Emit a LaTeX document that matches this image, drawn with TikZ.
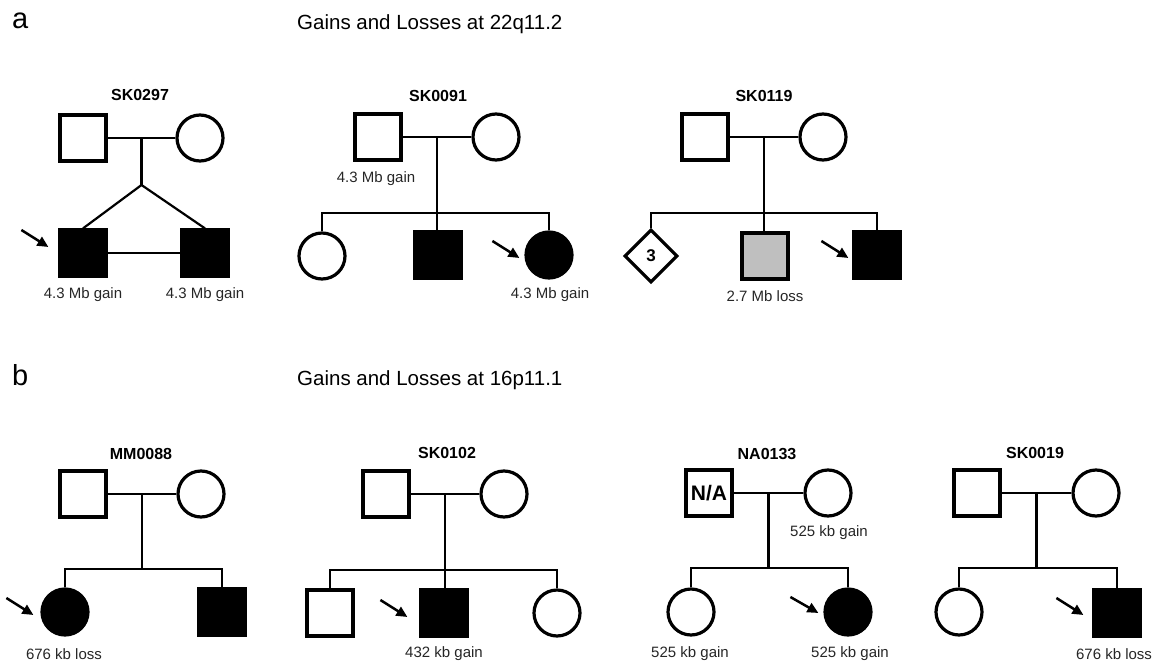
\documentclass[tikz,border=0pt]{standalone}
\usepackage{fontspec}
\setmainfont{Liberation Sans}
\usetikzlibrary{shapes.geometric,arrows.meta,calc}
\begin{document}
\begin{tikzpicture}[x=1pt,y=-1pt,
  male/.style={rectangle,draw,line width=3.2pt,minimum size=46pt,inner sep=0pt,fill=white},
  female/.style={circle,draw,line width=3.2pt,minimum size=46pt,inner sep=0pt,fill=white},
  multi/.style={diamond,draw,line width=3.2pt,minimum size=53pt,inner sep=0pt,fill=white,
    font=\fontsize{17}{18}\selectfont\bfseries},
  aff/.style={fill=black},
  carrier/.style={fill=black!25},
  link/.style={line width=2.2pt},
  proband/.style={line width=2.5pt,-{Triangle[length=11pt,width=10pt]}},
  famid/.style={font=\fontsize{16}{18}\selectfont\bfseries,inner sep=0pt},
  cnv/.style={font=\fontsize{15}{17}\selectfont,text=black!85,inner sep=0pt},
  head/.style={font=\fontsize{20.5}{24}\selectfont,anchor=base west,inner sep=0pt},
  panel/.style={font=\fontsize{29}{32}\selectfont,anchor=base west,inner sep=0pt},
]
\useasboundingbox (0,0) rectangle (1155,663);

% ---------- panel a ----------
\node[panel] (pa) at (12,29) {a};
\node[head] (ha) at (297,30) {Gains and Losses at 22q11.2};

% SK0297: twin brothers
\node[famid] (a1id) at (140,95) {SK0297};
\node[male] (a1f) at (83,138) {};
\node[female] (a1m) at (200,138) {};
\node[male,aff] (a1c1) at (83,253) {};
\node[male,aff] (a1c2) at (205,253) {};
\coordinate (a1j) at ($(a1f.east)!0.5!(a1m.west)$);
\coordinate (a1t) at ($(a1j)+(0,47)$);
\draw[link] (a1f) -- (a1m);
\draw[link] (a1j) -- (a1t);
\draw[link] (a1c1.north) -- (a1t) -- (a1c2.north);
\draw[link] (a1c1) -- (a1c2);
\coordinate (a1p) at ($(a1c1.west)+(-10,-6)$);
\draw[proband] ($(a1p)+(-27,-17)$) -- (a1p);
\node[cnv] (a1l1) at (83,295) {4.3 Mb gain};
\node[cnv] (a1l2) at (205,295) {4.3 Mb gain};

% SK0091
\node[famid] (a2id) at (438,96) {SK0091};
\node[male] (a2f) at (378,137) {};
\node[female] (a2m) at (496,137) {};
\node[female] (a2c1) at (322,256) {};
\node[male,aff] (a2c2) at (438,255) {};
\node[female,aff] (a2c3) at (549,255) {};
\coordinate (a2j) at ($(a2f.east)!0.5!(a2m.west)$);
\coordinate (a2s) at ($(a2j)+(0,76)$);
\draw[link] (a2f) -- (a2m);
\draw[link] (a2j) -- (a2s);
\draw[link] (a2c1.north) |- (a2s) -| (a2c3.north);
\draw[link] (a2s) -- (a2s |- a2c2.north);
\coordinate (a2p) at ($(a2c3.west)+(-5,3)$);
\draw[proband] ($(a2p)+(-27,-17)$) -- (a2p);
\node[cnv] (a2l1) at (376,179) {4.3 Mb gain};
\node[cnv] (a2l2) at (550,295) {4.3 Mb gain};

% SK0119
\node[famid] (a3id) at (764,96) {SK0119};
\node[male] (a3f) at (705,137) {};
\node[female] (a3m) at (823,137) {};
\node[multi] (a3c1) at (651,256) {3};
\node[male,carrier] (a3c2) at (765,256) {};
\node[male,aff] (a3c3) at (877,255) {};
\coordinate (a3j) at ($(a3f.east)!0.5!(a3m.west)$);
\coordinate (a3s) at ($(a3j)+(0,76)$);
\draw[link] (a3f) -- (a3m);
\draw[link] (a3j) -- (a3s);
\draw[link] (a3c1.north) |- (a3s) -| (a3c3.north);
\draw[link] (a3s) -- (a3s |- a3c2.north);
\coordinate (a3p) at ($(a3c3.west)+(-4,3)$);
\draw[proband] ($(a3p)+(-27,-17)$) -- (a3p);
\node[cnv] (a3l1) at (765,296) {2.7 Mb loss};

% ---------- panel b ----------
\node[panel] (pb) at (12,385) {b};
\node[head] (hb) at (297,385) {Gains and Losses at 16p11.1};

% MM0088
\node[famid] (b1id) at (141,454) {MM0088};
\node[male] (b1f) at (83,494) {};
\node[female] (b1m) at (201,494) {};
\node[female,aff] (b1c1) at (65,612) {};
\node[male,aff] (b1c2) at (222,612) {};
\coordinate (b1j) at ($(b1f.east)!0.5!(b1m.west)$);
\coordinate (b1s) at ($(b1j)+(0,75)$);
\draw[link] (b1f) -- (b1m);
\draw[link] (b1j) -- (b1s);
\draw[link] (b1c1.north) |- (b1s) -| (b1c2.north);
\coordinate (b1p) at ($(b1c1.west)+(-7,3)$);
\draw[proband] ($(b1p)+(-27,-17)$) -- (b1p);
\node[cnv] (b1l1) at (64,654) {676 kb loss};

% SK0102
\node[famid] (b2id) at (447,453) {SK0102};
\node[male] (b2f) at (386,494) {};
\node[female] (b2m) at (504,494) {};
\node[male] (b2c1) at (330,613) {};
\node[male,aff] (b2c2) at (444,613) {};
\node[female] (b2c3) at (557,613) {};
\coordinate (b2j) at ($(b2f.east)!0.5!(b2m.west)$);
\coordinate (b2s) at ($(b2j)+(0,76)$);
\draw[link] (b2f) -- (b2m);
\draw[link] (b2j) -- (b2s);
\draw[link] (b2c1.north) |- (b2s) -| (b2c3.north);
\draw[link] (b2s) -- (b2s |- b2c2.north);
\coordinate (b2p) at ($(b2c2.west)+(-12,4)$);
\draw[proband] ($(b2p)+(-27,-17)$) -- (b2p);
\node[cnv] (b2l1) at (444,654) {432 kb gain};

% NA0133
\node[famid] (b3id) at (767,454) {NA0133};
\node[male,font=\fontsize{21}{24}\selectfont\bfseries] (b3f) at (709,493) {N/A};
\node[female] (b3m) at (828,493) {};
\node[female] (b3c1) at (691,612) {};
\node[female,aff] (b3c2) at (848,612) {};
\coordinate (b3j) at ($(b3f.east)!0.5!(b3m.west)$);
\coordinate (b3s) at ($(b3j)+(0,75)$);
\draw[link] (b3f) -- (b3m);
\draw[link] (b3j) -- (b3s);
\draw[link] (b3c1.north) |- (b3s) -| (b3c2.north);
\coordinate (b3p) at ($(b3c2.west)+(-5,1)$);
\draw[proband] ($(b3p)+(-28,-16)$) -- (b3p);
\node[cnv] (b3l1) at (829,533) {525 kb gain};
\node[cnv] (b3l2) at (690,654) {525 kb gain};
\node[cnv] (b3l3) at (850,654) {525 kb gain};

% SK0019
\node[famid] (b4id) at (1035,453) {SK0019};
\node[male] (b4f) at (977,493) {};
\node[female] (b4m) at (1096,493) {};
\node[female] (b4c1) at (959,612) {};
\node[male,aff] (b4c2) at (1117,613) {};
\coordinate (b4j) at ($(b4f.east)!0.5!(b4m.west)$);
\coordinate (b4s) at ($(b4j)+(0,75)$);
\draw[link] (b4f) -- (b4m);
\draw[link] (b4j) -- (b4s);
\draw[link] (b4c1.north) |- (b4s) -| (b4c2.north);
\coordinate (b4p) at ($(b4c2.west)+(-9,2)$);
\draw[proband] ($(b4p)+(-27,-17)$) -- (b4p);
\node[cnv] (b4l1) at (1114,654) {676 kb loss};
\end{tikzpicture}
\end{document}
